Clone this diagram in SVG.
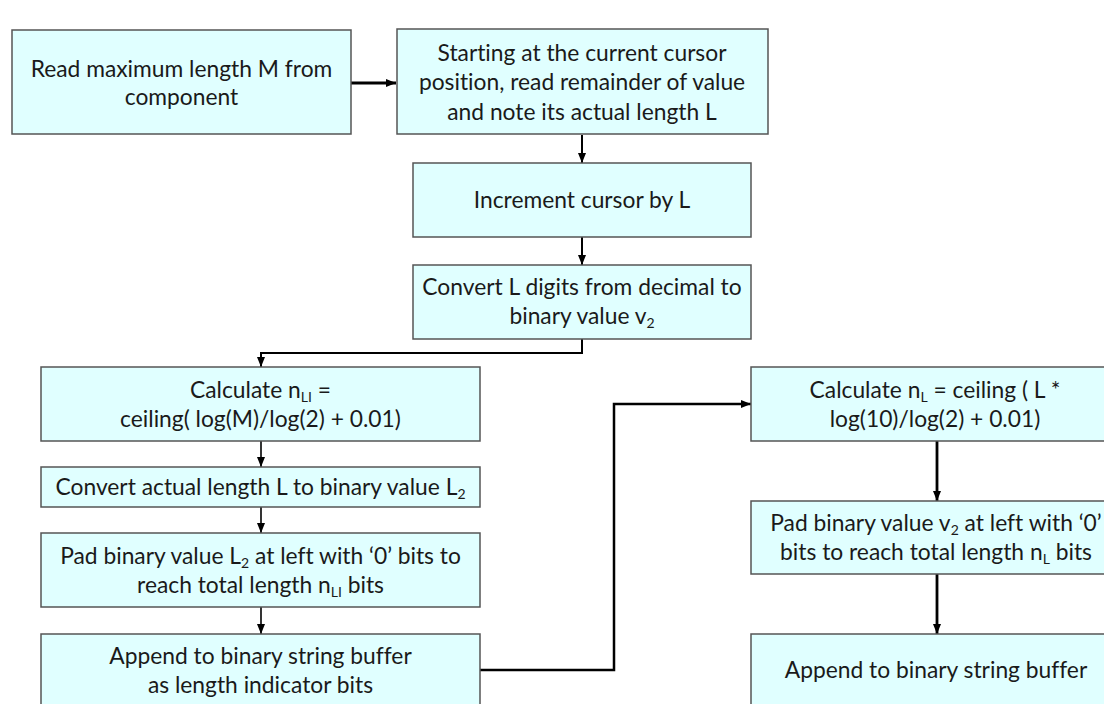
<svg xmlns="http://www.w3.org/2000/svg" width="1104" height="704" viewBox="0 0 1104 704">
<style>
.box{fill:#E0FFFF;stroke:#555;stroke-width:1.5}
.t{font-family:Lato,"Liberation Sans",sans-serif;font-size:22.8px;fill:#1a1a1a;text-anchor:middle;font-variant-ligatures:none}
.s{font-size:14px}
.c{fill:none;stroke:#000;stroke-linejoin:miter}
</style>
<defs>
<marker id="ah" markerUnits="userSpaceOnUse" markerWidth="10" markerHeight="10" viewBox="0 0 10 10" refX="10" refY="5" orient="auto">
<path d="M0,1 L10,5 L0,9 Z" fill="#000"/>
</marker>
</defs>
<rect width="1104" height="704" fill="#fff"/>
<g id="connectors">
<path class="c" stroke-width="3" d="M351,83 H396" marker-end="url(#ah)"/>
<path class="c" stroke-width="2" d="M582,135 V163" marker-end="url(#ah)"/>
<path class="c" stroke-width="2" d="M582,237 V265" marker-end="url(#ah)"/>
<path class="c" stroke-width="2" d="M582,339 V353 H261 V367" marker-end="url(#ah)"/>
<path class="c" stroke-width="1.6" d="M261,441 V467" marker-end="url(#ah)"/>
<path class="c" stroke-width="1.6" d="M261,507 V533" marker-end="url(#ah)"/>
<path class="c" stroke-width="1.6" d="M261,607 V634" marker-end="url(#ah)"/>
<path class="c" stroke-width="2.5" d="M480,670 H614 V404 H751" marker-end="url(#ah)"/>
<path class="c" stroke-width="2.8" d="M937,441 V501" marker-end="url(#ah)"/>
<path class="c" stroke-width="2.8" d="M937,574 V634" marker-end="url(#ah)"/>
</g>
<g id="n1"><rect class="box" x="12" y="30" width="339" height="104"/>
<text class="t" x="181.5" y="77">Read maximum length M from</text>
<text class="t" x="181.5" y="105">component</text></g>
<g id="n2"><rect class="box" x="397" y="29" width="371" height="105"/>
<text class="t" x="582" y="61">Starting at the current cursor</text>
<text class="t" x="582" y="90">position, read remainder of value</text>
<text class="t" x="582" y="120">and note its actual length L</text></g>
<g id="n3"><rect class="box" x="413" y="163" width="338" height="74"/>
<text class="t" x="582" y="208">Increment cursor by L</text></g>
<g id="n4"><rect class="box" x="413" y="265" width="338" height="74"/>
<text class="t" x="582" y="295">Convert L digits from decimal to</text>
<text class="t" x="582" y="324">binary value v<tspan class="s" dy="4">2</tspan></text></g>
<g id="n5"><rect class="box" x="41" y="367" width="439" height="74"/>
<text class="t" x="260.5" y="398">Calculate n<tspan class="s" dy="4">LI</tspan><tspan dy="-4"> =</tspan></text>
<text class="t" x="260.5" y="427">ceiling( log(M)/log(2) + 0.01)</text></g>
<g id="n6"><rect class="box" x="41" y="467" width="439" height="40"/>
<text class="t" x="260.5" y="495">Convert actual length L to binary value L<tspan class="s" dy="4">2</tspan></text></g>
<g id="n7"><rect class="box" x="41" y="533" width="439" height="74"/>
<text class="t" x="260.5" y="564">Pad binary value L<tspan class="s" dy="4">2</tspan><tspan dy="-4"> at left with ‘0’ bits to</tspan></text>
<text class="t" x="260.5" y="593">reach total length n<tspan class="s" dy="4">LI</tspan><tspan dy="-4"> bits</tspan></text></g>
<g id="n8"><rect class="box" x="41" y="634" width="439" height="80"/>
<text class="t" x="260.5" y="664">Append to binary string buffer</text>
<text class="t" x="260.5" y="693">as length indicator bits</text></g>
<g id="n9"><rect class="box" x="751" y="367" width="372" height="74"/>
<text class="t" x="935" y="398">Calculate n<tspan class="s" dy="4">L</tspan><tspan dy="-4"> = ceiling ( L *</tspan></text>
<text class="t" x="935" y="427">log(10)/log(2) + 0.01)</text></g>
<g id="n10"><rect class="box" x="751" y="501" width="372" height="73"/>
<text class="t" x="936" y="531">Pad binary value v<tspan class="s" dy="4">2</tspan><tspan dy="-4"> at left with ‘0’</tspan></text>
<text class="t" x="936" y="560">bits to reach total length n<tspan class="s" dy="4">L</tspan><tspan dy="-4"> bits</tspan></text></g>
<g id="n11"><rect class="box" x="751" y="634" width="372" height="80"/>
<text class="t" x="936" y="678">Append to binary string buffer</text></g>
</svg>
